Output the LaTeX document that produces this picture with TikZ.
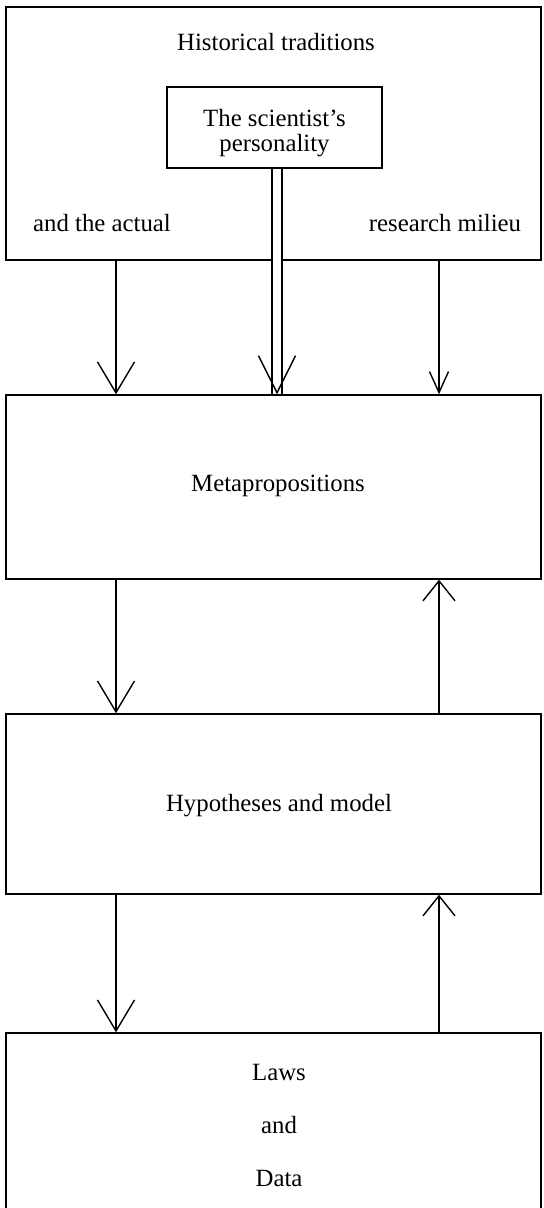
\documentclass[tikz,border=0pt]{standalone}
\usepackage{fontspec}
\setmainfont{Liberation Serif}
\usetikzlibrary{arrows.meta,calc}

\begin{document}
\begin{tikzpicture}[
  x=0.5pt, y=-0.5pt,
  every node/.append style={font=\fontsize{12.4}{12.5}\selectfont},
  boxsty/.style={draw, line width=0.7pt, rectangle, inner sep=0pt},
  plain/.style={inner sep=0pt},
  twin/.style={double, double distance=4.3pt, line width=0.7pt},
  downflow/.style={line width=0.7pt, -{Straight Barb[length=15.5pt,width=18.5pt]}},
  midflow/.style={line width=0.7pt, -{Straight Barb[length=18.5pt,width=18.5pt]}},
  sideflow/.style={line width=0.7pt, -{Straight Barb[length=10.5pt,width=9.5pt]}},
  upflow/.style={line width=0.7pt, -{Straight Barb[length=10pt,width=16pt]}}]

\useasboundingbox (0,0) rectangle (543,1208);
\clip (0,0) rectangle (543,1208);

% the milieu box
\node[boxsty, minimum width=267.5pt, minimum height=126.5pt] (hist) at (273.5,133.5) {};
\node[plain] (histtext) at (276,42) {Historical traditions};
\node[boxsty, minimum width=107.5pt, minimum height=40.5pt] (pers) at (274.5,127.5) {};
\node[plain, align=center] (perstext) at (274.5,133) {The scientist's\\personality};
\node[plain] (actual) at (102,223) {and the actual};
\node[plain] (milieu) at (445,223) {research milieu};

% the three levels
\node[boxsty, minimum width=267.5pt, minimum height=92pt] (meta) at (273.5,487) {};
\node[plain] (metatext) at (278,486) {Metapropositions};
\node[boxsty, minimum width=267.5pt, minimum height=90pt] (hyp) at (273.5,804) {};
\node[plain] (hyptext) at (279,806) {Hypotheses and model};
\node[boxsty, minimum width=267.5pt, minimum height=103.5pt] (laws) at (273.5,1136.5) {};
\node[plain, align=center] (lawstext) at (279,1125) {Laws\\[14pt]and\\[14pt]Data};

\coordinate (lcol) at (116,0);
\coordinate (mcol) at (277,0);
\coordinate (rcol) at (439,0);

% arrows
\draw[downflow] (hist.south -| lcol) -- (meta.north -| lcol);
\draw[twin] (pers.south -| mcol) -- (meta.north -| mcol);
\draw[midflow] ($(meta.north -| mcol)+(0,-2)$) -- (meta.north -| mcol);
\draw[sideflow] (hist.south -| rcol) -- (meta.north -| rcol);

\draw[downflow] (meta.south -| lcol) -- (hyp.north -| lcol);
\draw[upflow] (hyp.north -| rcol) -- (meta.south -| rcol);

\draw[downflow] (hyp.south -| lcol) -- (laws.north -| lcol);
\draw[upflow] (laws.north -| rcol) -- (hyp.south -| rcol);

\end{tikzpicture}
\end{document}
